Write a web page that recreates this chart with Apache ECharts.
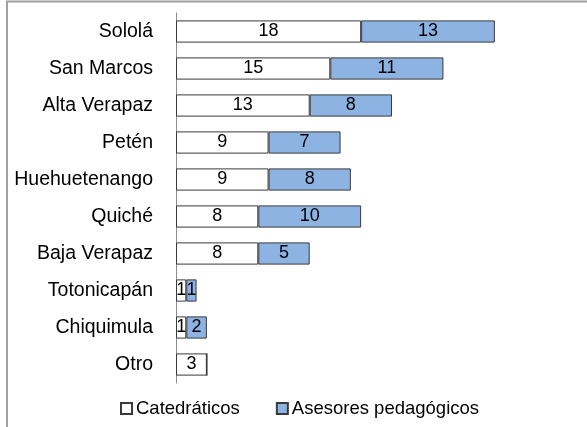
<!DOCTYPE html>
<html>
<head>
<meta charset="utf-8">
<script src="https://cdn.jsdelivr.net/npm/echarts@6/dist/echarts.min.js"></script>
<style>html,body{margin:0;padding:0;background:#fff;}#c{width:587px;height:427px;}</style>
</head>
<body>
<div id="c"></div>
<script>
const categories = ['Sololá','San Marcos','Alta Verapaz','Petén','Huehuetenango','Quiché','Baja Verapaz','Totonicapán','Chiquimula','Otro'];
const catedraticos = [18,15,13,9,9,8,8,1,1,3];
const asesores = [13,11,8,7,8,10,5,1,2,0];
const seriesNames = ['Catedráticos','Asesores pedagógicos'];

const chart = echarts.init(document.getElementById('c'), null, {renderer:'canvas'});
const font = 'Liberation Sans, Arial, sans-serif';
const lbl = {
  show: true, position: 'inside', color: '#000', fontSize: 18, fontFamily: font,
  formatter: p => p.value ? String(p.value) : ''
};
chart.setOption({
  animation: false,
  backgroundColor: '#fff',
  grid: {left: 176, top: 13, right: 51, bottom: 44, containLabel: false},
  xAxis: {type: 'value', min: 0, max: 35, show: false},
  yAxis: {
    type: 'category', data: categories, inverse: true,
    axisLine: {show: true, lineStyle: {color: '#8c8c8c', width: 1}},
    axisTick: {show: false},
    axisLabel: {color: '#000', fontSize: 19.5, fontFamily: font, margin: 23},
    splitLine: {show: false}
  },
  legend: {
    bottom: 4, left: 115, icon: 'rect',
    itemWidth: 11, itemHeight: 11, itemGap: 36,
    textStyle: {color: '#000', fontSize: 18.5, fontFamily: font, padding: [0,0,0,-1]},
    data: seriesNames
  },
  graphic: [
    {type: 'polyline', shape: {points: [[7, 427], [7, 1.5], [587, 1.5]]}, style: {stroke: '#a0a0a0', lineWidth: 2, fill: null}, silent: true}
  ],
  series: [
    {name: seriesNames[0], type: 'bar', stack: 's', data: catedraticos, barWidth: '60%',
      itemStyle: {color: '#ffffff', borderColor: '#3a3a3a', borderWidth: 1}, label: lbl},
    {name: seriesNames[1], type: 'bar', stack: 's', data: asesores, barWidth: '60%',
      itemStyle: {color: '#8DB3E2', borderColor: '#3a3a3a', borderWidth: 1}, label: lbl}
  ]
});
</script>
</body>
</html>
